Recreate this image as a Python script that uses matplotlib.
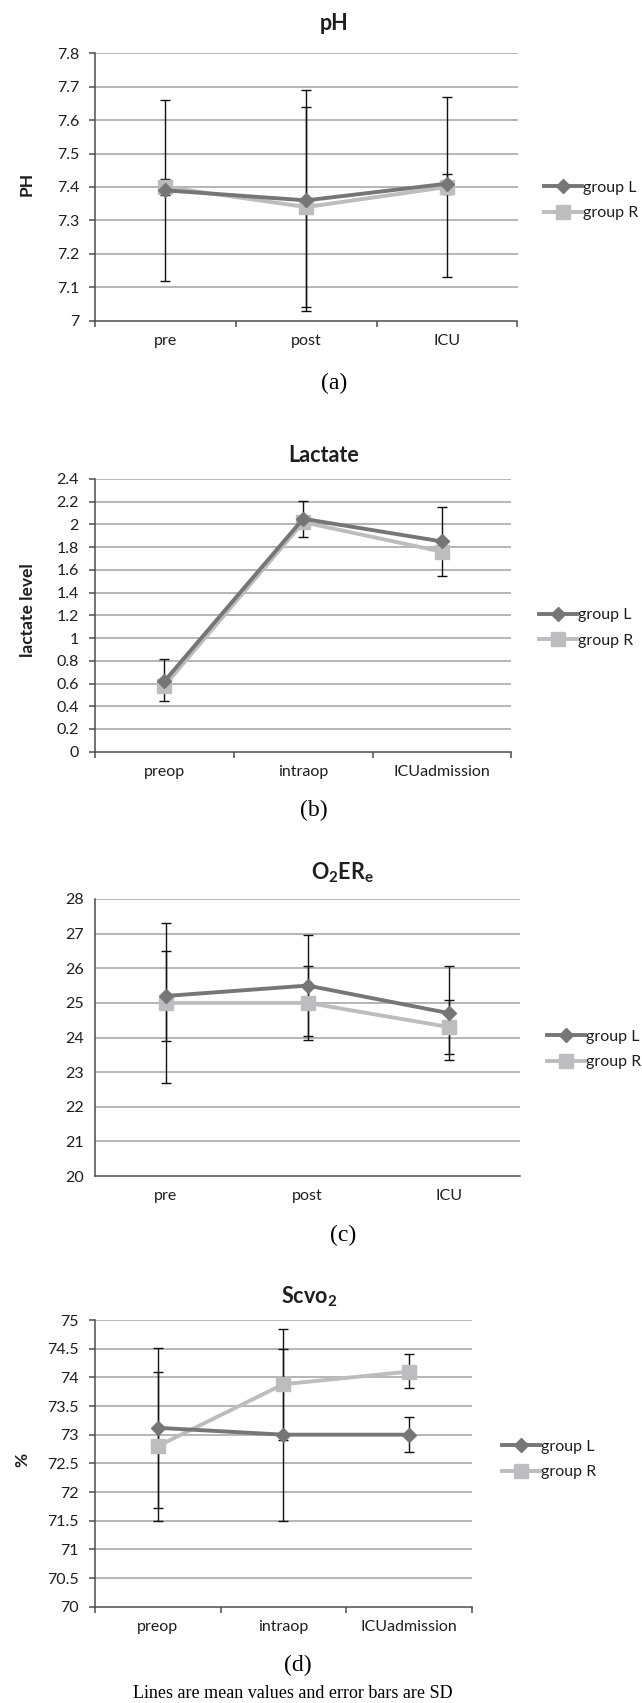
import matplotlib
matplotlib.use('Agg')
import matplotlib.pyplot as plt
import numpy as np
from matplotlib.ticker import FuncFormatter, FixedLocator

plt.rcParams['font.family'] = 'Lato'
plt.rcParams['mathtext.fontset'] = 'custom'
plt.rcParams['mathtext.rm'] = 'Lato:bold'
plt.rcParams['mathtext.it'] = 'Lato:bold'

# ---- data ----
ph_cats = ['pre', 'post', 'ICU']
ph_L = [7.39, 7.36, 7.41]
ph_R = [7.40, 7.34, 7.40]
ph_L_lo = [7.12, 7.03, 7.38]
ph_L_hi = [7.66, 7.69, 7.44]
ph_R_lo = [7.376, 7.04, 7.13]
ph_R_hi = [7.423, 7.64, 7.67]

lac_cats = ['preop', 'intraop', 'ICUadmission']
lac_L = [0.62, 2.05, 1.85]
lac_R = [0.58, 2.02, 1.76]
lac_L_lo = [0.62, 2.05, 1.85]
lac_L_hi = [0.82, 2.21, 2.15]
lac_R_lo = [0.45, 1.89, 1.55]
lac_R_hi = [0.58, 2.02, 1.76]

o2_cats = ['pre', 'post', 'ICU']
o2_L = [25.2, 25.5, 24.7]
o2_R = [25.0, 25.0, 24.3]
o2_L_lo = [23.9, 24.04, 23.34]
o2_L_hi = [26.5, 26.96, 26.06]
o2_R_lo = [22.7, 23.93, 23.52]
o2_R_hi = [27.3, 26.07, 25.08]

sc_cats = ['preop', 'intraop', 'ICUadmission']
sc_L = [73.12, 73.0, 73.0]
sc_R = [72.8, 73.88, 74.1]
sc_L_lo = [71.72, 71.5, 72.7]
sc_L_hi = [74.52, 74.5, 73.3]
sc_R_lo = [71.5, 72.91, 73.81]
sc_R_hi = [74.1, 74.85, 74.4]

ph_ticks = [7, 7.1, 7.2, 7.3, 7.4, 7.5, 7.6, 7.7, 7.8]
lac_ticks = [0, 0.2, 0.4, 0.6, 0.8, 1, 1.2, 1.4, 1.6, 1.8, 2, 2.2, 2.4]
o2_ticks = [20, 21, 22, 23, 24, 25, 26, 27, 28]
sc_ticks = [70, 70.5, 71, 71.5, 72, 72.5, 73, 73.5, 74, 74.5, 75]

W, H = 642, 1703
fig = plt.figure(figsize=(W / 100, H / 100), dpi=100)

col_L = '#767676'
col_R = '#bdbdc0'
grid_col = '#a9a9a9'
axis_col = '#4d4d4d'
txt_col = '#1e1e1e'
fs_tick = 11.5


def px_axes(left, right, top, bottom):
    return fig.add_axes([left / W, 1 - bottom / H, (right - left) / W, (bottom - top) / H])


def draw_panel(ax, cats, L, R, Llo, Lhi, Rlo, Rhi, yticks, ticks=True):
    x = np.arange(len(cats))
    ax.set_xlim(-0.5, len(cats) - 0.5)
    ax.set_ylim(yticks[0], yticks[-1])
    ax.set_yticks(yticks)
    ax.yaxis.set_major_formatter(FuncFormatter(lambda v, p: '%g' % round(v, 2)))
    ax.set_xticks(x)
    ax.set_xticklabels(cats)
    ax.xaxis.set_minor_locator(FixedLocator(np.arange(len(cats) + 1) - 0.5))
    for s in ['top', 'right']:
        ax.spines[s].set_visible(False)
    for s in ['left', 'bottom']:
        ax.spines[s].set_color(axis_col)
        ax.spines[s].set_linewidth(1.1)
    for t in yticks[1:]:
        ax.axhline(t, color=grid_col, lw=1.2, zorder=1)
    ax.tick_params(axis='x', which='major', length=0, pad=9.5, labelsize=fs_tick, labelcolor=txt_col)
    if ticks:
        ax.tick_params(axis='x', which='minor', length=4.5, width=1.1, color=axis_col, direction='out')
        ax.tick_params(axis='y', length=4.5, width=1.1, color=axis_col, pad=7, labelsize=fs_tick, labelcolor=txt_col)
    else:
        ax.tick_params(axis='x', which='minor', length=0)
        ax.tick_params(axis='y', length=0, pad=8, labelsize=fs_tick, labelcolor=txt_col)

    L = np.array(L); R = np.array(R)
    ax.errorbar(x, L, yerr=[L - np.array(Llo), np.array(Lhi) - L], fmt='none',
                ecolor='#111111', elinewidth=1.0, capsize=3.6, capthick=1.0, zorder=2)
    ax.errorbar(x, R, yerr=[R - np.array(Rlo), np.array(Rhi) - R], fmt='none',
                ecolor='#111111', elinewidth=1.0, capsize=3.6, capthick=1.0, zorder=2)
    ax.plot(x, L, color=col_L, lw=2.8, marker='D', ms=7.2, mec=col_L, mfc=col_L,
            label='group L', zorder=4)
    ax.plot(x, R, color=col_R, lw=2.8, marker='s', ms=9.5, mec=col_R, mfc=col_R,
            label='group R', zorder=3)


def add_legend(ax, x0, yc):
    h, l = ax.get_legend_handles_labels()
    ax.legend(h, l, loc='center left', bbox_to_anchor=(x0 / W, 1 - yc / H),
              bbox_transform=fig.transFigure, frameon=False, fontsize=fs_tick,
              handlelength=2.4, handletextpad=0.05, labelspacing=0.7,
              borderpad=0, borderaxespad=0, labelcolor=txt_col)


def ftext(x, y, s, **kw):
    fig.text(x / W, 1 - y / H, s, ha='center', va='center', **kw)


# (a) pH
ax_a = px_axes(95, 517.5, 53.3, 320.7)
draw_panel(ax_a, ph_cats, ph_L, ph_R, ph_L_lo, ph_L_hi, ph_R_lo, ph_R_hi, ph_ticks)
add_legend(ax_a, 544, 200.5)
ftext(334, 23, 'pH', fontsize=15.5, fontweight='bold', color=txt_col)
ftext(27, 184, 'PH', fontsize=12.5, fontweight='bold', rotation=90, color=txt_col)
ftext(334, 383, '(a)', fontsize=17, family='Liberation Serif')

# (b) Lactate
ax_b = px_axes(95, 511.3, 479, 751.7)
draw_panel(ax_b, lac_cats, lac_L, lac_R, lac_L_lo, lac_L_hi, lac_R_lo, lac_R_hi, lac_ticks)
add_legend(ax_b, 538.7, 628)
ftext(324, 455, 'Lactate', fontsize=15.5, fontweight='bold', color=txt_col)
ftext(28, 610, 'lactate level', fontsize=12.5, fontweight='bold', rotation=90, color=txt_col)
ftext(313.5, 810, '(b)', fontsize=17, family='Liberation Serif')

# (c) O2ERe
ax_c = px_axes(95, 520.3, 899, 1176)
draw_panel(ax_c, o2_cats, o2_L, o2_R, o2_L_lo, o2_L_hi, o2_R_lo, o2_R_hi, o2_ticks, ticks=False)
add_legend(ax_c, 547, 1049.5)
ftext(342, 873, r'$\mathrm{O_2ER_e}$', fontsize=15.5, color=txt_col)
ftext(343, 1235, '(c)', fontsize=17, family='Liberation Serif')

# (d) Scvo2
ax_d = px_axes(95, 471.7, 1320, 1606.7)
draw_panel(ax_d, sc_cats, sc_L, sc_R, sc_L_lo, sc_L_hi, sc_R_lo, sc_R_hi, sc_ticks)
add_legend(ax_d, 502, 1459.5)
ftext(309, 1297, r'$\mathrm{Scvo_2}$', fontsize=15.5, color=txt_col)
ftext(22, 1460, '%', fontsize=12.5, fontweight='bold', rotation=90, color=txt_col)
ftext(298, 1665, '(d)', fontsize=17, family='Liberation Serif')
ftext(293, 1693, 'Lines are mean values and error bars are SD', fontsize=13,
      family='Liberation Serif')

fig.savefig('out.png', dpi=100)
